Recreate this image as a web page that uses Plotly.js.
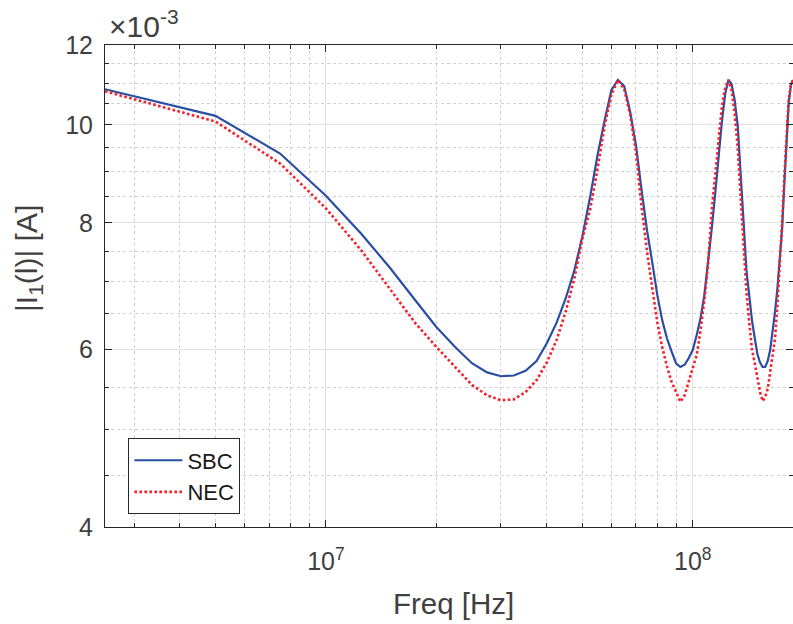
<!DOCTYPE html>
<html>
<head>
<meta charset="utf-8">
<script src="https://cdn.plot.ly/plotly-3.0.1.min.js"></script>
<style>html,body{margin:0;padding:0;background:#fff;}#chart{width:793px;height:624px;}</style>
</head>
<body>
<div id="chart"></div>
<script>
// Frequency samples (MHz)
const freqMHz = [2.5,5,7.5,10,12.5,15,17.5,20,22.5,25,27.5,30,32.5,35,37.5,40,42.5,45,47.5,50,
  52.5,55,57.5,60,62.5,65,67.5,70,72.5,75,77.5,80,82.5,85,87.5,90,92.5,95,97.5,100,
  102.5,105,107.5,110,112.5,115,117.5,120,122.5,125,127.5,130,132.5,135,137.5,140,142.5,145,147.5,150,
  152.5,155,157.5,160,162.5,165,167.5,170,172.5,175,177.5,180,182.5,185,187.5];
// |I1(l)| in units of 1e-3 A
const sbcValues = [10.85,10.21,9.37,8.51,7.80,7.21,6.71,6.31,6.03,5.81,5.69,5.64,5.65,5.71,5.84,6.08,6.37,6.73,7.17,7.76,
  8.49,9.34,10.11,10.83,11.08,10.93,10.30,9.55,8.62,7.87,7.32,6.79,6.41,6.15,5.97,5.81,5.76,5.79,5.88,5.99,
  6.20,6.44,6.79,7.30,7.87,8.53,9.30,10.07,10.73,11.08,10.98,10.59,10.00,9.02,8.02,7.18,6.74,6.40,6.15,5.93,
  5.82,5.76,5.76,5.84,5.99,6.23,6.53,6.89,7.32,7.87,8.72,9.66,10.51,10.95,11.08];
const necValues = [10.80,10.08,9.16,8.27,7.51,6.87,6.37,6.03,5.76,5.53,5.40,5.34,5.35,5.44,5.59,5.82,6.12,6.53,7.04,7.72,
  8.25,9.05,9.99,10.72,11.08,10.85,10.23,9.40,8.30,7.50,6.90,6.38,6.03,5.77,5.57,5.43,5.32,5.40,5.56,5.75,
  5.92,6.27,6.71,7.27,8.20,8.89,9.69,10.43,10.88,11.08,10.83,10.28,9.51,8.43,7.52,6.83,6.37,5.99,5.81,5.59,
  5.44,5.33,5.38,5.48,5.68,5.92,6.15,6.63,7.21,7.96,8.86,9.77,10.59,10.95,11.08];
const yTickVals = [4,6,8,10,12];
const yTickText = ['4','6','8','10','12'];
const yMinorVals = [4.5,5,5.5,6.5,7,7.5,8.5,9,9.5,10.5,11,11.5];
const xTickVals = [1e7,1e8];
const xTickText = ['10<sup>7</sup>','10<sup>8</sup>'];
const xMinorVals = [3e6,4e6,5e6,6e6,7e6,8e6,9e6,2e7,3e7,4e7,5e7,6e7,7e7,8e7,9e7];
const seriesNames = ['SBC','NEC'];

const scale = 1e-3;
const fHz = freqMHz.map(f => f*1e6);

const FONT = 'Liberation Sans, Arial, Helvetica, sans-serif';
const TXT = '#404040';
const AX = '#262626';

const traces = [
  {x: fHz, y: sbcValues.map(v => v*scale), name: seriesNames[0], type: 'scatter', mode: 'lines',
   line: {color: '#2a4ea3', width: 2.2}},
  {x: fHz, y: necValues.map(v => v*scale), name: seriesNames[1], type: 'scatter', mode: 'lines',
   line: {color: '#f4212b', width: 2.6, dash: '2.6px,2.4px'}}
];

const layout = {
  width: 793, height: 624,
  margin: {l: 105, r: 0, t: 45, b: 97},
  paper_bgcolor: '#fff', plot_bgcolor: '#fff',
  font: {family: FONT, color: TXT},
  showlegend: true,
  xaxis: {
    type: 'log',
    range: [Math.log10(2.5e6), Math.log10(1.875e8)],
    tickmode: 'array', tickvals: xTickVals, ticktext: xTickText,
    ticks: 'inside', ticklen: 7, tickwidth: 1, tickcolor: AX,
    showline: true, linecolor: AX, linewidth: 1, mirror: 'ticks',
    showgrid: true, gridcolor: '#e2e2e2', gridwidth: 1, zeroline: false,
    tickfont: {size: 25, color: TXT, family: FONT},
    ticklabelstandoff: 12,
    minor: {tickmode: 'array', tickvals: xMinorVals, ticks: 'inside', ticklen: 4, tickcolor: AX,
            showgrid: true, gridcolor: '#d0d0d0', griddash: 'dot', gridwidth: 1}
  },
  yaxis: {
    type: 'log',
    range: [Math.log10(4*scale), Math.log10(12*scale)],
    tickmode: 'array', tickvals: yTickVals.map(v => v*scale), ticktext: yTickText,
    ticks: 'inside', ticklen: 7, tickwidth: 1, tickcolor: AX,
    showline: true, linecolor: AX, linewidth: 1, mirror: 'ticks',
    showgrid: true, gridcolor: '#e2e2e2', gridwidth: 1, zeroline: false,
    tickfont: {size: 25, color: TXT, family: FONT},
    ticklabelstandoff: 6,
    minor: {tickmode: 'array', tickvals: yMinorVals.map(v => v*scale), ticks: 'inside', ticklen: 4, tickcolor: AX,
            showgrid: true, gridcolor: '#d0d0d0', griddash: 'dot', gridwidth: 1}
  },
  legend: {
    x: 0.034, y: 0.026, xanchor: 'left', yanchor: 'bottom',
    bgcolor: '#fff', bordercolor: AX, borderwidth: 1,
    font: {size: 22, color: '#1a1a1a', family: FONT},
    tracegroupgap: 0, itemwidth: 48
  },
  annotations: [
    {text: '×10<sup>-3</sup>', xref: 'paper', yref: 'paper', x: 0.003, y: 1, xanchor: 'left', yanchor: 'bottom',
     yshift: 0, showarrow: false, font: {size: 30, color: TXT, family: FONT}},
    {text: '|I<sub>1</sub>(l)| [A]', xref: 'paper', yref: 'paper', x: -0.112, y: 0.558, textangle: -90,
     xanchor: 'center', yanchor: 'middle', showarrow: false, font: {size: 30, color: TXT, family: FONT}},
    {text: 'Freq [Hz]', xref: 'paper', yref: 'paper', x: 0.506, y: -0.158, xanchor: 'center', yanchor: 'middle',
     showarrow: false, font: {size: 29.5, color: TXT, family: FONT}}
  ]
};

Plotly.newPlot('chart', traces, layout, {staticPlot: true, displayModeBar: false});
</script>
</body>
</html>
